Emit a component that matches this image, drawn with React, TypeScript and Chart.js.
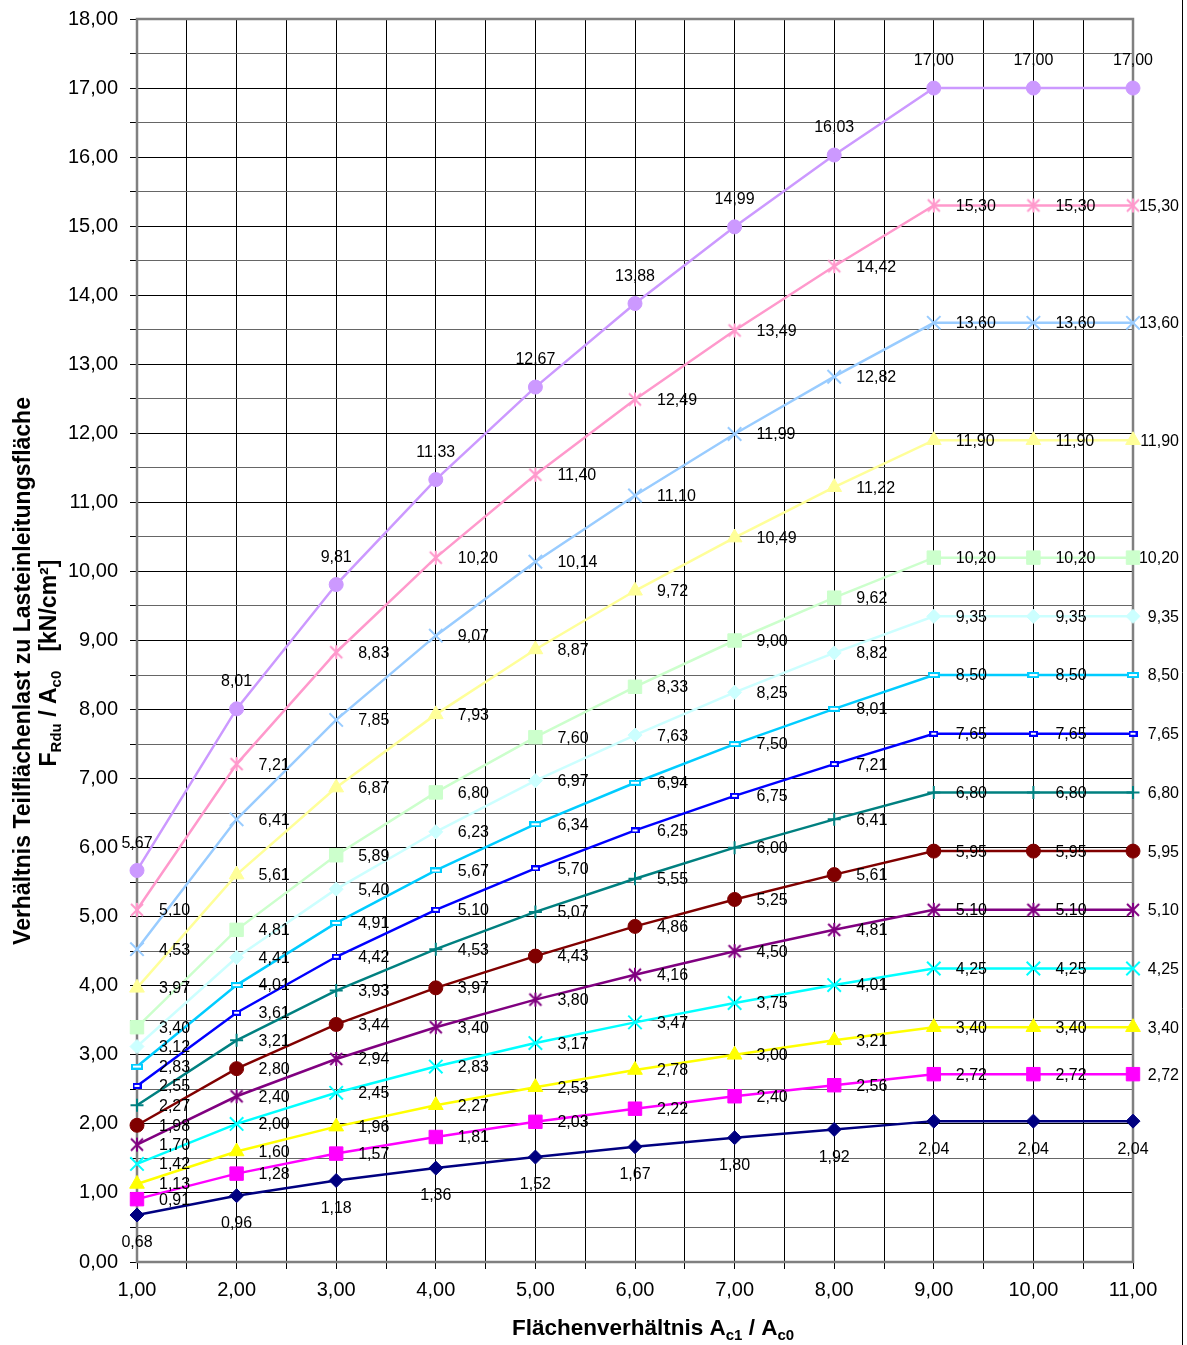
import React, { useEffect, useRef } from 'react';
import { Chart, registerables } from 'chart.js';

Chart.register(...registerables);

// ---- data ----
const xValues = [1, 2, 3, 4, 5, 6, 7, 8, 9, 10, 11];

const series01 = [0.68, 0.96, 1.18, 1.36, 1.52, 1.67, 1.80, 1.92, 2.04, 2.04, 2.04];
const series02 = [0.91, 1.28, 1.57, 1.81, 2.03, 2.22, 2.40, 2.56, 2.72, 2.72, 2.72];
const series03 = [1.13, 1.60, 1.96, 2.27, 2.53, 2.78, 3.00, 3.21, 3.40, 3.40, 3.40];
const series04 = [1.42, 2.00, 2.45, 2.83, 3.17, 3.47, 3.75, 4.01, 4.25, 4.25, 4.25];
const series05 = [1.70, 2.40, 2.94, 3.40, 3.80, 4.16, 4.50, 4.81, 5.10, 5.10, 5.10];
const series06 = [1.98, 2.80, 3.44, 3.97, 4.43, 4.86, 5.25, 5.61, 5.95, 5.95, 5.95];
const series07 = [2.27, 3.21, 3.93, 4.53, 5.07, 5.55, 6.00, 6.41, 6.80, 6.80, 6.80];
const series08 = [2.55, 3.61, 4.42, 5.10, 5.70, 6.25, 6.75, 7.21, 7.65, 7.65, 7.65];
const series09 = [2.83, 4.01, 4.91, 5.67, 6.34, 6.94, 7.50, 8.01, 8.50, 8.50, 8.50];
const series10 = [3.12, 4.41, 5.40, 6.23, 6.97, 7.63, 8.25, 8.82, 9.35, 9.35, 9.35];
const series11 = [3.40, 4.81, 5.89, 6.80, 7.60, 8.33, 9.00, 9.62, 10.20, 10.20, 10.20];
const series12 = [3.97, 5.61, 6.87, 7.93, 8.87, 9.72, 10.49, 11.22, 11.90, 11.90, 11.90];
const series13 = [4.53, 6.41, 7.85, 9.07, 10.14, 11.10, 11.99, 12.82, 13.60, 13.60, 13.60];
const series14 = [5.10, 7.21, 8.83, 10.20, 11.40, 12.49, 13.49, 14.42, 15.30, 15.30, 15.30];
const series15 = [5.67, 8.01, 9.81, 11.33, 12.67, 13.88, 14.99, 16.03, 17.00, 17.00, 17.00];

const allSeries = [
  series01, series02, series03, series04, series05, series06, series07, series08,
  series09, series10, series11, series12, series13, series14, series15,
];

const seriesColors = [
  '#000080', '#FF00FF', '#FFFF00', '#00FFFF', '#800080', '#800000', '#008080', '#0000FF',
  '#00CCFF', '#CCFFFF', '#CCFFCC', '#FFFF99', '#99CCFF', '#FF99CC', '#CC99FF',
];

const markerKinds = [
  'diamond', 'square', 'triangle', 'x', 'star', 'circle', 'plus', 'dashS',
  'dashL', 'diamond', 'square', 'triangle', 'x', 'star', 'circle',
];

const labelPositions = [
  'below', 'right', 'right', 'right', 'right', 'right', 'right', 'right',
  'right', 'right', 'right', 'right', 'right', 'right', 'above',
];

const xMin = 1;
const xMax = 11;
const yMin = 0;
const yMax = 18;
const tickStep = 0.5;

const xTitleParts = [
  { t: 'Flächenverhältnis A', sub: false },
  { t: 'c1', sub: true },
  { t: ' / A', sub: false },
  { t: 'c0', sub: true },
];
const yTitleLine1 = 'Verhältnis Teilflächenlast zu Lasteinleitungsfläche';
const yTitleLine2Parts = [
  { t: 'F', sub: false },
  { t: 'Rdu', sub: true },
  { t: ' / A', sub: false },
  { t: 'c0', sub: true },
  { t: '   [kN/cm²]', sub: false },
];

const FONT = '"Liberation Sans", Arial, Helvetica, sans-serif';
const fmt = (v: number) => v.toFixed(2).replace('.', ',');

function makeStar(color: string) {
  const c = document.createElement('canvas');
  c.width = 16;
  c.height = 16;
  const g = c.getContext('2d')!;
  g.strokeStyle = color;
  g.lineWidth = 2;
  g.beginPath();
  g.moveTo(2, 2); g.lineTo(14, 14);
  g.moveTo(14, 2); g.lineTo(2, 14);
  g.moveTo(8, 1); g.lineTo(8, 15);
  g.stroke();
  return c;
}

function makeDash(color: string, w: number, h: number) {
  const c = document.createElement('canvas');
  c.width = w;
  c.height = h;
  const g = c.getContext('2d')!;
  g.fillStyle = '#ffffff';
  g.fillRect(0, 0, w, h);
  g.strokeStyle = color;
  g.lineWidth = 2;
  g.strokeRect(1, 1, w - 2, h - 2);
  return c;
}

function markerProps(kind: string, color: string) {
  switch (kind) {
    case 'diamond': return { pointStyle: 'rectRot', pointRadius: 7, pointBorderWidth: 1 };
    case 'square': return { pointStyle: 'rect', pointRadius: 9.5, pointBorderWidth: 1 };
    case 'triangle': return { pointStyle: 'triangle', pointRadius: 8.5, pointBorderWidth: 1 };
    case 'x': return { pointStyle: 'crossRot', pointRadius: 9.5, pointBorderWidth: 2 };
    case 'star': return { pointStyle: makeStar(color), pointRadius: 8, pointBorderWidth: 1 };
    case 'circle': return { pointStyle: 'circle', pointRadius: 7, pointBorderWidth: 1 };
    case 'plus': return { pointStyle: 'cross', pointRadius: 6.5, pointBorderWidth: 2 };
    case 'dashS': return { pointStyle: makeDash(color, 9, 6), pointRadius: 5, pointBorderWidth: 1 };
    case 'dashL': return { pointStyle: makeDash(color, 12, 6), pointRadius: 6, pointBorderWidth: 1 };
    default: return { pointStyle: 'circle', pointRadius: 5, pointBorderWidth: 1 };
  }
}

type Part = { t: string; sub: boolean };

function drawRich(ctx: CanvasRenderingContext2D, parts: Part[], cx: number, baseline: number,
  mainSize: number, subSize: number, subShift: number) {
  const mainFont = `bold ${mainSize}px ${FONT}`;
  const subFont = `bold ${subSize}px ${FONT}`;
  let total = 0;
  const widths = parts.map((p) => {
    ctx.font = p.sub ? subFont : mainFont;
    const w = ctx.measureText(p.t).width;
    total += w;
    return w;
  });
  let x = cx - total / 2;
  ctx.textAlign = 'left';
  ctx.textBaseline = 'alphabetic';
  parts.forEach((p, i) => {
    ctx.font = p.sub ? subFont : mainFont;
    ctx.fillText(p.t, x, baseline + (p.sub ? subShift : 0));
    x += widths[i];
  });
}

const LABEL_RIGHT_LIMIT = 1179;

const customPlugin = {
  id: 'excelLook',
  beforeDatasetsDraw(chart: any) {
    const { ctx, chartArea: a } = chart;
    ctx.save();
    ctx.strokeStyle = '#808080';
    ctx.lineWidth = 2.5;
    ctx.strokeRect(a.left, a.top, a.right - a.left, a.bottom - a.top);
    ctx.restore();
  },
  afterDatasetsDraw(chart: any) {
    const { ctx } = chart;
    ctx.save();
    ctx.font = `16px ${FONT}`;
    ctx.fillStyle = '#000';
    chart.data.datasets.forEach((ds: any, i: number) => {
      const meta = chart.getDatasetMeta(i);
      const pos = labelPositions[i];
      meta.data.forEach((pt: any, j: number) => {
        const v = allSeries[i][j];
        const txt = fmt(v);
        if (pos === 'right') {
          const w = ctx.measureText(txt).width;
          ctx.textAlign = 'left';
          ctx.textBaseline = 'middle';
          ctx.fillText(txt, Math.min(pt.x + 22, LABEL_RIGHT_LIMIT - w), pt.y + 1);
        } else if (pos === 'above') {
          ctx.textAlign = 'center';
          ctx.textBaseline = 'middle';
          ctx.fillText(txt, pt.x, pt.y - 27);
        } else {
          ctx.textAlign = 'center';
          ctx.textBaseline = 'middle';
          ctx.fillText(txt, pt.x, pt.y + 28);
        }
      });
    });
    ctx.restore();
  },
  afterDraw(chart: any) {
    const { ctx } = chart;
    ctx.save();
    ctx.fillStyle = '#000';
    // x-axis title
    drawRich(ctx, xTitleParts, 653, 1335, 22.5, 15, 5);
    // y-axis title (rotated)
    ctx.save();
    ctx.translate(29.5, 671);
    ctx.rotate(-Math.PI / 2);
    ctx.font = `bold 23px ${FONT}`;
    ctx.textAlign = 'center';
    ctx.textBaseline = 'alphabetic';
    ctx.fillText(yTitleLine1, 0, 0);
    ctx.restore();
    ctx.save();
    ctx.translate(55.5, 663);
    ctx.rotate(-Math.PI / 2);
    drawRich(ctx, yTitleLine2Parts, 0, 0, 23, 15, 5);
    ctx.restore();
    // outer right frame line
    ctx.strokeStyle = '#000';
    ctx.lineWidth = 1;
    ctx.beginPath();
    ctx.moveTo(1182.5, 0);
    ctx.lineTo(1182.5, 1345);
    ctx.stroke();
    ctx.restore();
  },
};

export default function App() {
  const canvasRef = useRef<HTMLCanvasElement | null>(null);

  useEffect(() => {
    document.body.style.margin = '0';
    const canvas = canvasRef.current;
    if (!canvas) return;

    const datasets = allSeries.map((vals, i) => {
      const color = seriesColors[i];
      return {
        label: `Reihe ${i + 1}`,
        data: vals.map((y, j) => ({ x: xValues[j], y })),
        borderColor: color,
        backgroundColor: color,
        pointBackgroundColor: color,
        pointBorderColor: color,
        borderWidth: 2.5,
        tension: 0,
        clip: false,
        ...markerProps(markerKinds[i], color),
      };
    });

    const chart = new Chart(canvas, {
      type: 'line',
      data: { datasets },
      options: {
        responsive: false,
        animation: false,
        devicePixelRatio: 1,
        events: [],
        layout: { padding: { top: 19, right: 54, left: 0, bottom: 0 } },
        plugins: {
          legend: { display: false },
          title: { display: false },
          tooltip: { enabled: false },
        },
        scales: {
          x: {
            type: 'linear',
            min: xMin,
            max: xMax,
            afterFit: (s: any) => {
              s.height = 83;
              s.paddingLeft = 0;
              s.paddingRight = 0;
            },
            border: { display: false },
            grid: {
              color: '#000',
              lineWidth: 1,
              tickLength: 7,
              tickColor: '#000',
            },
            ticks: {
              stepSize: tickStep,
              autoSkip: false,
              maxRotation: 0,
              padding: 9,
              color: '#000',
              font: { size: 20, family: FONT },
              callback: (v: any) => (Number.isInteger(v) ? fmt(v) : ''),
            },
          },
          y: {
            type: 'linear',
            min: yMin,
            max: yMax,
            afterFit: (s: any) => {
              s.width = 137;
              s.paddingTop = 0;
              s.paddingBottom = 0;
            },
            border: { display: false },
            grid: {
              color: (c: any) => (c.tick && Number.isInteger(c.tick.value) ? '#000' : '#666'),
              lineWidth: 1,
              tickLength: 7,
              tickColor: '#000',
            },
            ticks: {
              stepSize: tickStep,
              autoSkip: false,
              padding: 12,
              color: '#000',
              font: { size: 20, family: FONT },
              callback: (v: any) => (Number.isInteger(v) ? fmt(v) : ''),
            },
          },
        },
      },
      plugins: [customPlugin],
    } as any);

    return () => chart.destroy();
  }, []);

  return (
    <div style={{ width: 1187, height: 1345, background: '#fff' }}>
      <canvas ref={canvasRef} width={1187} height={1345} style={{ display: 'block' }} />
    </div>
  );
}
